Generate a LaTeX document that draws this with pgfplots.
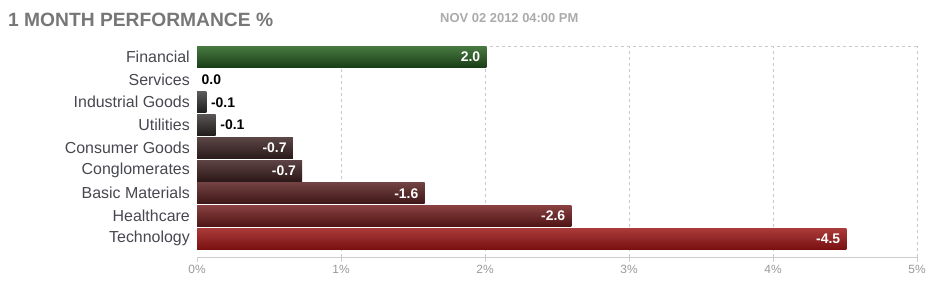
\documentclass[border=0pt]{standalone}
\usepackage{fontspec}
\setmainfont{Liberation Sans}
\usepackage{pgfplots}
\pgfplotsset{compat=1.18}
\definecolor{titlegray}{HTML}{777777}
\definecolor{dategray}{HTML}{AAAAAA}
\definecolor{catgray}{HTML}{474750}
\definecolor{tickgray}{HTML}{999999}
\definecolor{axisgray}{HTML}{CCCCCC}
\definecolor{gridgray}{HTML}{C8C8C8}
\pgfplotsset{
  inlbl/.style={nodes near coords style={anchor=east, inner sep=0pt, xshift=-6bp, text=white, font=\fontsize{14}{14}\selectfont\bfseries}},
  outlbl/.style={nodes near coords style={anchor=west, inner sep=0pt, xshift=4.5bp, text=black, font=\fontsize{14}{14}\selectfont\bfseries}},
}
\begin{document}
\begin{tikzpicture}
\path[use as bounding box] (0,0) rectangle (932bp,286bp);
\node[anchor=west, font=\fontsize{19.3}{20}\selectfont\bfseries, text=titlegray, inner sep=0pt] at (8bp,266bp) {1 MONTH PERFORMANCE \%};
\node[anchor=west, font=\fontsize{13}{13}\selectfont\bfseries, text=dategray, inner sep=0pt] at (440bp,268bp) {NOV 02 2012 04:00 PM};
\begin{axis}[
  at={(197bp,29bp)}, anchor=south west, scale only axis,
  width=720bp, height=211bp,
  xmin=0, xmax=5, ymin=-0.8, ymax=8.47,
  xbar, bar width=21bp, bar shift=0pt,
  axis x line*=bottom, axis y line*=left,
  y axis line style={draw=none},
  x axis line style={color=axisgray, line width=1pt, -},
  xtick={1,2,3,4,5}, xticklabels={1\%,2\%,3\%,4\%,5\%},
  extra x ticks={0}, extra x tick labels={0\%},
  extra x tick style={grid=none},
  xmajorgrids=true,
  grid style={dashed, color=gridgray, line width=0.8pt},
  xtick style={color=axisgray, line width=0.8pt},
  tick align=outside, major tick length=5bp,
  xticklabel style={text=tickgray, font=\fontsize{12}{12}\selectfont, inner sep=0pt, yshift=-3bp},
  ytick={0,...,8},
  yticklabels={Technology,Healthcare,Basic Materials,Conglomerates,Consumer Goods,Utilities,Industrial Goods,Services,Financial},
  ytick style={draw=none},
  yticklabel style={text=catgray, font=\fontsize{16}{16}\selectfont, anchor=east, inner sep=0pt, xshift=-2bp},
  extra y ticks={8.47}, extra y tick labels={},
  extra y tick style={ymajorgrids=true, major tick length=0pt},
  clip=false,
]
\addplot[draw=none, top color={rgb,255:red,72;green,122;blue,66}, bottom color={rgb,255:red,26;green,62;blue,24}, inlbl, nodes near coords={2.0}] coordinates {(2.01,8)};
\addplot[draw=none, fill=none, outlbl, nodes near coords={0.0}] coordinates {(0,7)};
\addplot[draw=none, top color={rgb,255:red,90;green,90;blue,90}, bottom color={rgb,255:red,30;green,30;blue,30}, outlbl, nodes near coords={-0.1}] coordinates {(0.065,6)};
\addplot[draw=none, top color={rgb,255:red,88;green,84;blue,84}, bottom color={rgb,255:red,32;green,28;blue,28}, outlbl, nodes near coords={-0.1}] coordinates {(0.13,5)};
\addplot[draw=none, top color={rgb,255:red,92;green,70;blue,70}, bottom color={rgb,255:red,42;green,26;blue,26}, inlbl, nodes near coords={-0.7}] coordinates {(0.665,4)};
\addplot[draw=none, top color={rgb,255:red,94;green,68;blue,68}, bottom color={rgb,255:red,44;green,24;blue,24}, inlbl, nodes near coords={-0.7}] coordinates {(0.73,3)};
\addplot[draw=none, top color={rgb,255:red,114;green,66;blue,66}, bottom color={rgb,255:red,62;green,22;blue,22}, inlbl, nodes near coords={-1.6}] coordinates {(1.58,2)};
\addplot[draw=none, top color={rgb,255:red,136;green,64;blue,64}, bottom color={rgb,255:red,78;green,20;blue,20}, inlbl, nodes near coords={-2.6}] coordinates {(2.6,1)};
\addplot[draw=none, top color={rgb,255:red,170;green,58;blue,58}, bottom color={rgb,255:red,122;green,16;blue,16}, inlbl, nodes near coords={-4.5}] coordinates {(4.51,0)};
\end{axis}
\end{tikzpicture}
\end{document}
